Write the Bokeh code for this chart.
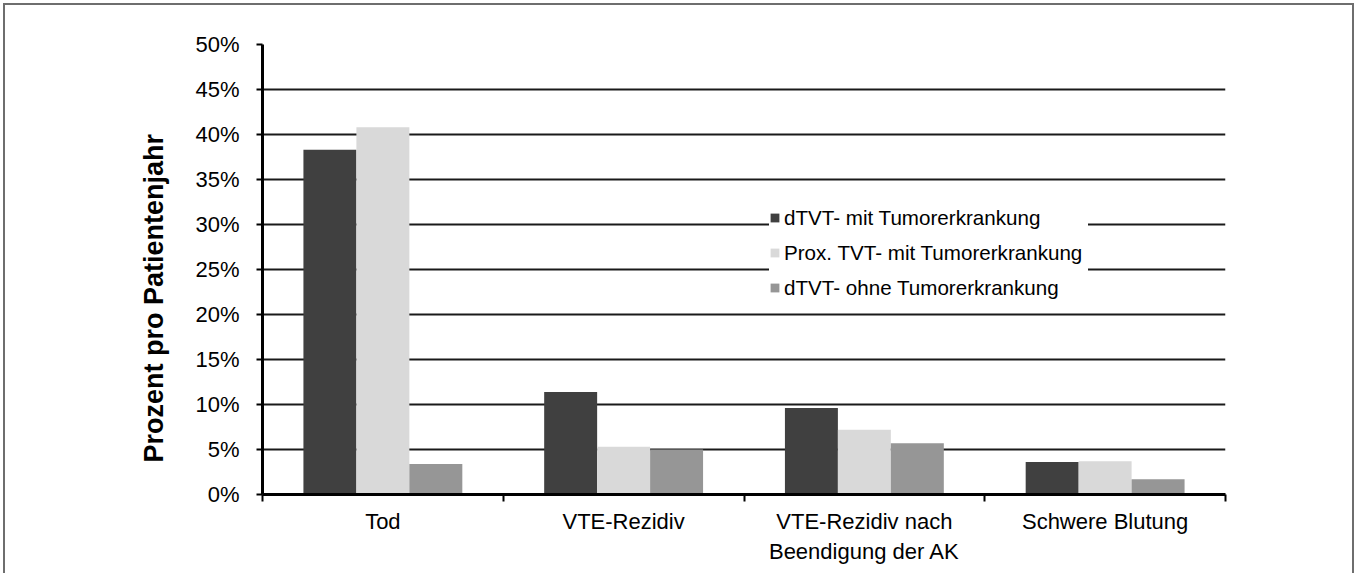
import numpy as np
from bokeh.plotting import figure
from bokeh.models import Range1d, FixedTicker, PrintfTickFormatter, Title
from bokeh.embed import file_html
from bokeh.resources import INLINE

categories = ["Tod", "VTE-Rezidiv", "VTE-Rezidiv nach\nBeendigung der AK", "Schwere Blutung"]
series_names = ["dTVT- mit Tumorerkrankung", "Prox. TVT- mit Tumorerkrankung", "dTVT- ohne Tumorerkrankung"]
dtvt_mit = [38.3, 11.4, 9.6, 3.6]
prox_mit = [40.8, 5.3, 7.2, 3.7]
dtvt_ohne = [3.4, 5.0, 5.7, 1.7]
colors = ["#404040", "#d9d9d9", "#969696"]
y_ticks = list(range(0, 51, 5))
y_title = "Prozent pro Patientenjahr"

FONT = "Liberation Sans"

p = figure(width=1351, height=570, output_backend="svg", toolbar_location=None,
           x_range=Range1d(0, len(categories)), y_range=Range1d(0, 50),
           min_border_left=257, min_border_right=131, min_border_top=39, min_border_bottom=81)
p.outline_line_color = None
p.styles = {"margin-left": "3px", "margin-top": "3px",
            "border-left": "2px solid #6e6e6e", "border-top": "2px solid #6e6e6e",
            "border-right": "2px solid #6e6e6e"}

centers = np.arange(len(categories)) + 0.5
bw = 0.22
offsets = [-bw, 0.0, bw]
for vals, off, col, name in zip([dtvt_mit, prox_mit, dtvt_ohne], offsets, colors, series_names):
    p.vbar(x=centers + off, top=vals, width=bw, bottom=0, fill_color=col, line_color=None,
           legend_label=name)

# y axis
p.yaxis.ticker = FixedTicker(ticks=y_ticks, minor_ticks=[])
p.yaxis.formatter = PrintfTickFormatter(format="%d%%")
p.yaxis.axis_line_width = 3
p.yaxis.axis_line_color = "black"
p.yaxis.major_tick_line_color = "black"
p.yaxis.major_tick_line_width = 2
p.yaxis.major_tick_out = 6
p.yaxis.major_tick_in = 0
p.yaxis.major_label_standoff = 17
p.yaxis.major_label_text_font = FONT
p.yaxis.major_label_text_font_size = "22px"
p.yaxis.major_label_text_color = "black"

# x axis
p.xaxis.ticker = FixedTicker(ticks=list(centers), minor_ticks=list(range(len(categories) + 1)))
p.xaxis.major_label_overrides = {float(c): lab for c, lab in zip(centers, categories)}
p.xaxis.axis_line_width = 3
p.xaxis.axis_line_color = "black"
p.xaxis.major_tick_line_color = None
p.xaxis.major_tick_out = 0
p.xaxis.major_tick_in = 0
p.xaxis.minor_tick_line_color = "black"
p.xaxis.minor_tick_line_width = 2
p.xaxis.minor_tick_out = 7
p.xaxis.minor_tick_in = 0
p.xaxis.major_label_standoff = 7
p.xaxis.major_label_text_font = FONT
p.xaxis.major_label_text_font_size = "22px"
p.xaxis.major_label_text_color = "black"

# grid
p.xgrid.grid_line_color = None
p.ygrid.ticker = FixedTicker(ticks=y_ticks[1:])
p.ygrid.grid_line_color = "#1a1a1a"
p.ygrid.grid_line_width = 2

# y axis title, placed as a left-side title so it can be shifted
p.add_layout(Title(text=y_title, align="left", offset=32, standoff=48,
                   text_font=FONT, text_font_size="27px", text_font_style="bold",
                   text_color="black"), "left")

# legend
lg = p.legend[0]
lg.location = (507, 189)
lg.background_fill_color = "white"
lg.background_fill_alpha = 1.0
lg.border_line_color = None
lg.padding = 6
lg.spacing = 0
lg.margin = 0
lg.glyph_width = 11
lg.glyph_height = 11
lg.label_height = 35
lg.label_width = 304
lg.label_standoff = 4
lg.label_text_font = FONT
lg.label_text_font_size = "20.6px"
lg.label_text_color = "black"
lg.label_text_baseline = "middle"

open("out.html", "w").write(file_html(p, INLINE))
